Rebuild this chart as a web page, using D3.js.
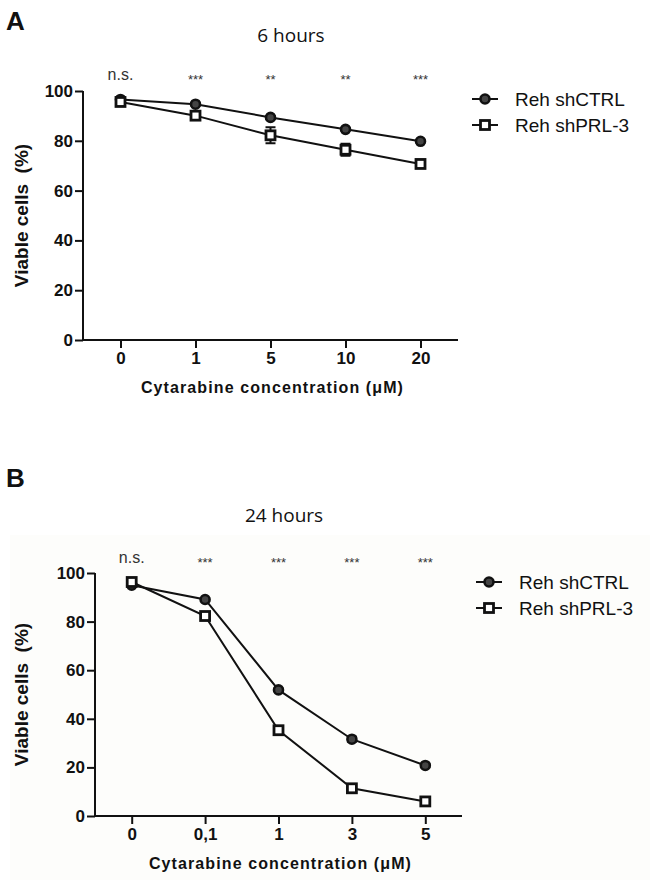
<!DOCTYPE html>
<html>
<head>
<meta charset="utf-8">
<script src="https://cdn.jsdelivr.net/npm/d3@7"></script>
<style>
  body { margin: 0; background: #fff; }
  svg { display: block; }
  text { font-family: "Liberation Sans", Arial, sans-serif; fill: #111; }
</style>
</head>
<body>
<svg id="chart" width="650" height="880"></svg>
<script>
// 数据：面板 A（6 小时）
const dosesA = ["0", "1", "5", "10", "20"];
const ctrlA = [96.6, 94.7, 89.4, 84.6, 79.8];
const ctrlErrA = [0.6, 0.6, 0.6, 0.6, 0.6];
const prlA = [95.6, 90.1, 82.2, 76.4, 70.7];
const prlErrA = [1.0, 1.2, 3.2, 2.4, 1.4];
const sigA = ["n.s.", "***", "**", "**", "***"];

// 数据：面板 B（24 小时）
const dosesB = ["0", "0,1", "1", "3", "5"];
const ctrlB = [95.0, 89.1, 51.9, 31.6, 20.8];
const ctrlErrB = [0.6, 0.6, 0.6, 1.0, 0.6];
const prlB = [96.3, 82.3, 35.3, 11.4, 6.0];
const prlErrB = [0.8, 0.8, 1.6, 0.6, 0.8];
const sigB = ["n.s.", "***", "***", "***", "***"];

const yTicks = [0, 20, 40, 60, 80, 100];
const seriesNames = ["Reh shCTRL", "Reh shPRL-3"];

const svg = d3.select("#chart");

// 面板 B 有一层很淡的底色
svg.append("rect")
  .attr("x", 10).attr("y", 535)
  .attr("width", 640).attr("height", 345)
  .attr("fill", "#fdfdfb");

function drawPanel(cfg) {
  const g = svg.append("g");

  // 比例尺
  const x = d3.scalePoint().domain(cfg.doses).range([cfg.x0, cfg.x1]).padding(0.5);
  const y = d3.scaleLinear().domain([0, 100]).range([cfg.y0, cfg.y100]);

  // 面板字母和标题
  g.append("text").attr("x", 6).attr("y", cfg.letterY)
    .attr("font-size", 26).attr("font-weight", "bold").text(cfg.letter);
  g.append("text").attr("x", cfg.titleX).attr("y", cfg.titleY)
    .attr("text-anchor", "middle")
    .style("font-family", "'Open Sans', 'Noto Sans', sans-serif")
    .style("font-size", "19px")
    .text(cfg.title);

  // Y 轴
  const yAxis = g.append("g")
    .attr("transform", `translate(${cfg.x0},0)`)
    .call(d3.axisLeft(y).tickValues(yTicks).tickSize(8).tickPadding(2));
  yAxis.select(".domain").attr("stroke-width", 2).attr("stroke", "#111")
    .attr("d", `M0,${cfg.y100}V${cfg.y0}`);
  yAxis.selectAll(".tick line").attr("stroke-width", 2).attr("stroke", "#111");
  yAxis.selectAll(".tick text")
    .style("font-size", "17px").style("font-weight", "bold").attr("fill", "#111");

  // X 轴
  const xAxis = g.append("g")
    .attr("transform", `translate(0,${cfg.y0})`)
    .call(d3.axisBottom(x).tickSize(8).tickPadding(4));
  xAxis.select(".domain").attr("stroke-width", 2).attr("stroke", "#111")
    .attr("d", `M${cfg.x0},0H${cfg.x1}`);
  xAxis.selectAll(".tick line").attr("stroke-width", 2).attr("stroke", "#111");
  xAxis.selectAll(".tick text")
    .style("font-size", "17px").style("font-weight", "bold").attr("fill", "#111");

  // 轴标题
  g.append("text")
    .attr("transform", `translate(28,${(cfg.y0 + cfg.y100) / 2}) rotate(-90)`)
    .attr("text-anchor", "middle")
    .style("font-size", "19px").style("font-weight", "bold")
    .style("white-space", "pre")
    .text("Viable cells  (%)");
  g.append("text")
    .attr("x", (cfg.x0 + cfg.x1) / 2 + 2).attr("y", cfg.xTitleY)
    .attr("text-anchor", "middle")
    .style("font-size", "16px").style("font-weight", "bold")
    .style("letter-spacing", "1.1px")
    .text("Cytarabine concentration (\u03BCM)");

  // 显著性标记
  g.selectAll(".sig").data(cfg.sig).join("text")
    .attr("x", (d, i) => x(cfg.doses[i]))
    .attr("y", (d) => d === "n.s." ? cfg.sigY : cfg.sigY + 4)
    .attr("text-anchor", "middle")
    .style("font-size", (d) => d === "n.s." ? "16px" : "13px")
    .style("fill", "#333")
    .text((d) => d);

  const line = d3.line().x((d, i) => x(cfg.doses[i])).y((d) => y(d));

  const series = [
    { values: cfg.ctrl, err: cfg.ctrlErr, shape: "circle" },
    { values: cfg.prl, err: cfg.prlErr, shape: "square" }
  ];

  series.forEach((s) => {
    g.append("path").datum(s.values)
      .attr("d", line).attr("fill", "none")
      .attr("stroke", "#111").attr("stroke-width", 2);

    // 误差线
    s.values.forEach((v, i) => {
      const cx = x(cfg.doses[i]);
      const lo = y(v - s.err[i]), hi = y(v + s.err[i]);
      g.append("path")
        .attr("d", `M${cx},${hi}V${lo}M${cx - 5},${lo}H${cx + 5}M${cx - 5},${hi}H${cx + 5}`)
        .attr("stroke", "#111").attr("stroke-width", 2).attr("fill", "none");
    });
  });

  // 标记点（后画，覆盖在线上）
  series.forEach((s) => {
    s.values.forEach((v, i) => drawMarker(g, s.shape, x(cfg.doses[i]), y(v)));
  });

  // 图例
  seriesNames.forEach((name, i) => {
    const ly = cfg.legendY + i * 26;
    g.append("line")
      .attr("x1", cfg.legendX).attr("x2", cfg.legendX + 26)
      .attr("y1", ly).attr("y2", ly)
      .attr("stroke", "#111").attr("stroke-width", 2);
    drawMarker(g, series[i].shape, cfg.legendX + 13, ly);
    g.append("text")
      .attr("x", cfg.legendX + 43).attr("y", ly + 7)
      .style("font-size", "19px").text(name);
  });
}

function drawMarker(g, shape, cx, cy) {
  if (shape === "circle") {
    g.append("circle").attr("cx", cx).attr("cy", cy).attr("r", 4.5)
      .attr("fill", "#444").attr("stroke", "#111").attr("stroke-width", 2.6);
  } else {
    g.append("rect").attr("x", cx - 4.5).attr("y", cy - 4.5)
      .attr("width", 9).attr("height", 9)
      .attr("fill", "#fff").attr("stroke", "#111").attr("stroke-width", 2.8);
  }
}

drawPanel({
  letter: "A", letterY: 30, title: "6 hours", titleX: 291, titleY: 42,
  doses: dosesA, ctrl: ctrlA, ctrlErr: ctrlErrA, prl: prlA, prlErr: prlErrA, sig: sigA,
  x0: 83, x1: 458, y0: 340, y100: 91, sigY: 80, xTitleY: 393,
  legendX: 472, legendY: 99
});

drawPanel({
  letter: "B", letterY: 487, title: "24 hours", titleX: 284, titleY: 522,
  doses: dosesB, ctrl: ctrlB, ctrlErr: ctrlErrB, prl: prlB, prlErr: prlErrB, sig: sigB,
  x0: 95, x1: 462, y0: 816, y100: 573, sigY: 563, xTitleY: 869,
  legendX: 476, legendY: 582
});
</script>
</body>
</html>
